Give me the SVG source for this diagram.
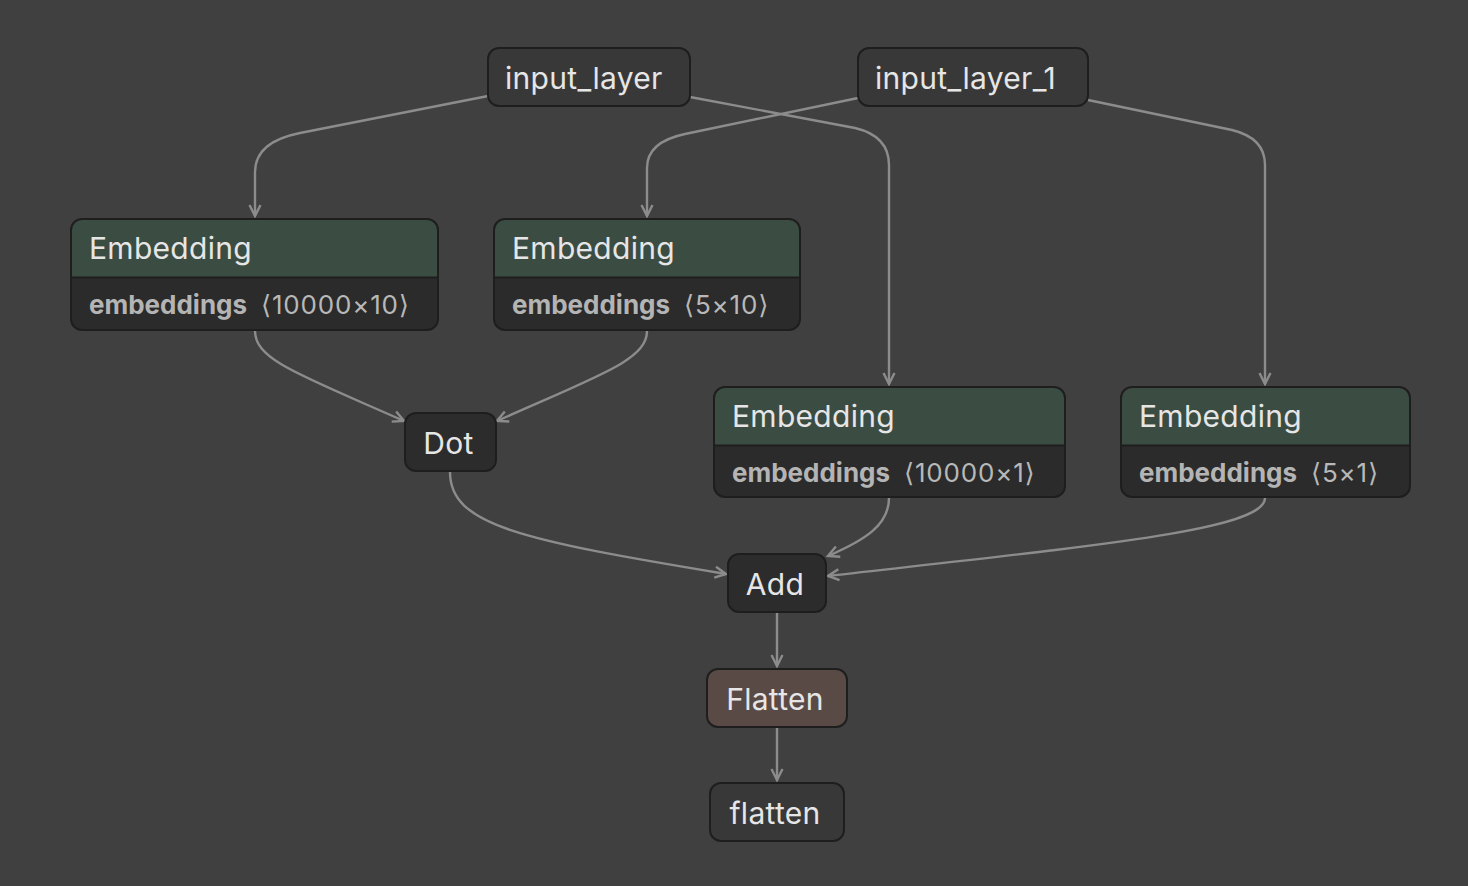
<svg xmlns="http://www.w3.org/2000/svg" width="1468" height="886" viewBox="0 0 1468 886">
<defs>
<marker id="arr" viewBox="0 0 14 14" refX="12" refY="7" markerWidth="14" markerHeight="14" markerUnits="userSpaceOnUse" orient="auto">
<path d="M1,1.5 L12,7 L1,12.5" fill="none" stroke="#8c8c8c" stroke-width="2.4"/>
</marker>
<style>
.node{fill:#383838;stroke:#1e1e1e;stroke-width:2}
.op{fill:#2c2c2c;stroke:#1e1e1e;stroke-width:2}
.hdr{fill:#3b4c42}
.body{fill:#2b2b2b}
.t{font-family:Inter,"Noto Sans","DejaVu Sans",sans-serif;font-size:30px;letter-spacing:0.3px;fill:#e6e6e6}
.b{font-family:Inter,"Noto Sans","DejaVu Sans",sans-serif;font-size:26px;font-weight:bold;fill:#b4b4b4}
.s{font-family:Inter,"Noto Sans","DejaVu Sans",sans-serif;font-size:26px;letter-spacing:0.8px;fill:#b8b8b8}
.e{fill:none;stroke:#8c8c8c;stroke-width:2.4;marker-end:url(#arr)}
</style>
</defs>
<rect width="1468" height="886" fill="#404040"/>
<g id="connectors">
<path class="e" d="M488,96 L300,133 Q255,142 255,172 L255,216"/>
<path class="e" d="M690,97 L855,128 Q889,136 889,165 L889,384"/>
<path class="e" d="M858,98 L685,134 Q647,142 647,168 L647,216"/>
<path class="e" d="M1088,100 L1232,130 Q1265,138 1265,165 L1265,384"/>
<path class="e" d="M255,331 C255,360 300,375 404,421"/>
<path class="e" d="M647,331 C647,360 600,375 497,421"/>
<path class="e" d="M450,472 C450,525 520,540 726,574"/>
<path class="e" d="M889,498 C889,525 865,540 828,556"/>
<path class="e" d="M1265,498 C1265,530 1100,545 828,576"/>
<path class="e" d="M777,613 L777,666"/>
<path class="e" d="M777,728 L777,780"/>
</g>
<g id="input_layer">
<rect class="node" x="488" y="48" width="202" height="58" rx="11"/>
<text class="t" x="505" y="89">input_layer</text>
</g>
<g id="input_layer_1">
<rect class="node" x="858" y="48" width="230" height="58" rx="11"/>
<text class="t" x="875" y="89">input_layer_1</text>
</g>
<g id="emb1">
<rect class="body" x="71" y="219" width="367" height="111" rx="11"/>
<path class="hdr" d="M82,219 H427 Q438,219 438,230 V277 H71 V230 Q71,219 82,219 Z"/>
<line x1="71" y1="277.5" x2="438" y2="277.5" stroke="#1e1e1e" stroke-width="2"/>
<rect x="71" y="219" width="367" height="111" rx="11" fill="none" stroke="#1e1e1e" stroke-width="2"/>
<text class="t" x="89" y="259">Embedding</text>
<text y="314"><tspan class="b" x="89">embeddings</tspan><tspan class="s" x="261">⟨10000×10⟩</tspan></text>
</g>
<g id="emb2">
<rect class="body" x="494" y="219" width="306" height="111" rx="11"/>
<path class="hdr" d="M505,219 H789 Q800,219 800,230 V277 H494 V230 Q494,219 505,219 Z"/>
<line x1="494" y1="277.5" x2="800" y2="277.5" stroke="#1e1e1e" stroke-width="2"/>
<rect x="494" y="219" width="306" height="111" rx="11" fill="none" stroke="#1e1e1e" stroke-width="2"/>
<text class="t" x="512" y="259">Embedding</text>
<text y="314"><tspan class="b" x="512">embeddings</tspan><tspan class="s" x="684">⟨5×10⟩</tspan></text>
</g>
<g id="emb3">
<rect class="body" x="714" y="387" width="351" height="110" rx="11"/>
<path class="hdr" d="M725,387 H1054 Q1065,387 1065,398 V445 H714 V398 Q714,387 725,387 Z"/>
<line x1="714" y1="445.5" x2="1065" y2="445.5" stroke="#1e1e1e" stroke-width="2"/>
<rect x="714" y="387" width="351" height="110" rx="11" fill="none" stroke="#1e1e1e" stroke-width="2"/>
<text class="t" x="732" y="427">Embedding</text>
<text y="482"><tspan class="b" x="732">embeddings</tspan><tspan class="s" x="904">⟨10000×1⟩</tspan></text>
</g>
<g id="emb4">
<rect class="body" x="1121" y="387" width="289" height="110" rx="11"/>
<path class="hdr" d="M1132,387 H1399 Q1410,387 1410,398 V445 H1121 V398 Q1121,387 1132,387 Z"/>
<line x1="1121" y1="445.5" x2="1410" y2="445.5" stroke="#1e1e1e" stroke-width="2"/>
<rect x="1121" y="387" width="289" height="110" rx="11" fill="none" stroke="#1e1e1e" stroke-width="2"/>
<text class="t" x="1139" y="427">Embedding</text>
<text y="482"><tspan class="b" x="1139">embeddings</tspan><tspan class="s" x="1311">⟨5×1⟩</tspan></text>
</g>
<g id="dot">
<rect class="op" x="405" y="413" width="91" height="58" rx="11"/>
<text class="t" x="448.5" y="454" text-anchor="middle">Dot</text>
</g>
<g id="add">
<rect class="op" x="728" y="554" width="98" height="58" rx="11"/>
<text class="t" x="775" y="595" text-anchor="middle">Add</text>
</g>
<g id="Flatten">
<rect x="707" y="669" width="140" height="58" rx="11" fill="#5a4a46" stroke="#1e1e1e" stroke-width="2"/>
<text class="t" x="775" y="710" text-anchor="middle">Flatten</text>
</g>
<g id="flatten_out">
<rect class="node" x="710" y="783" width="134" height="58" rx="11"/>
<text class="t" x="775" y="824" text-anchor="middle">flatten</text>
</g>
</svg>
